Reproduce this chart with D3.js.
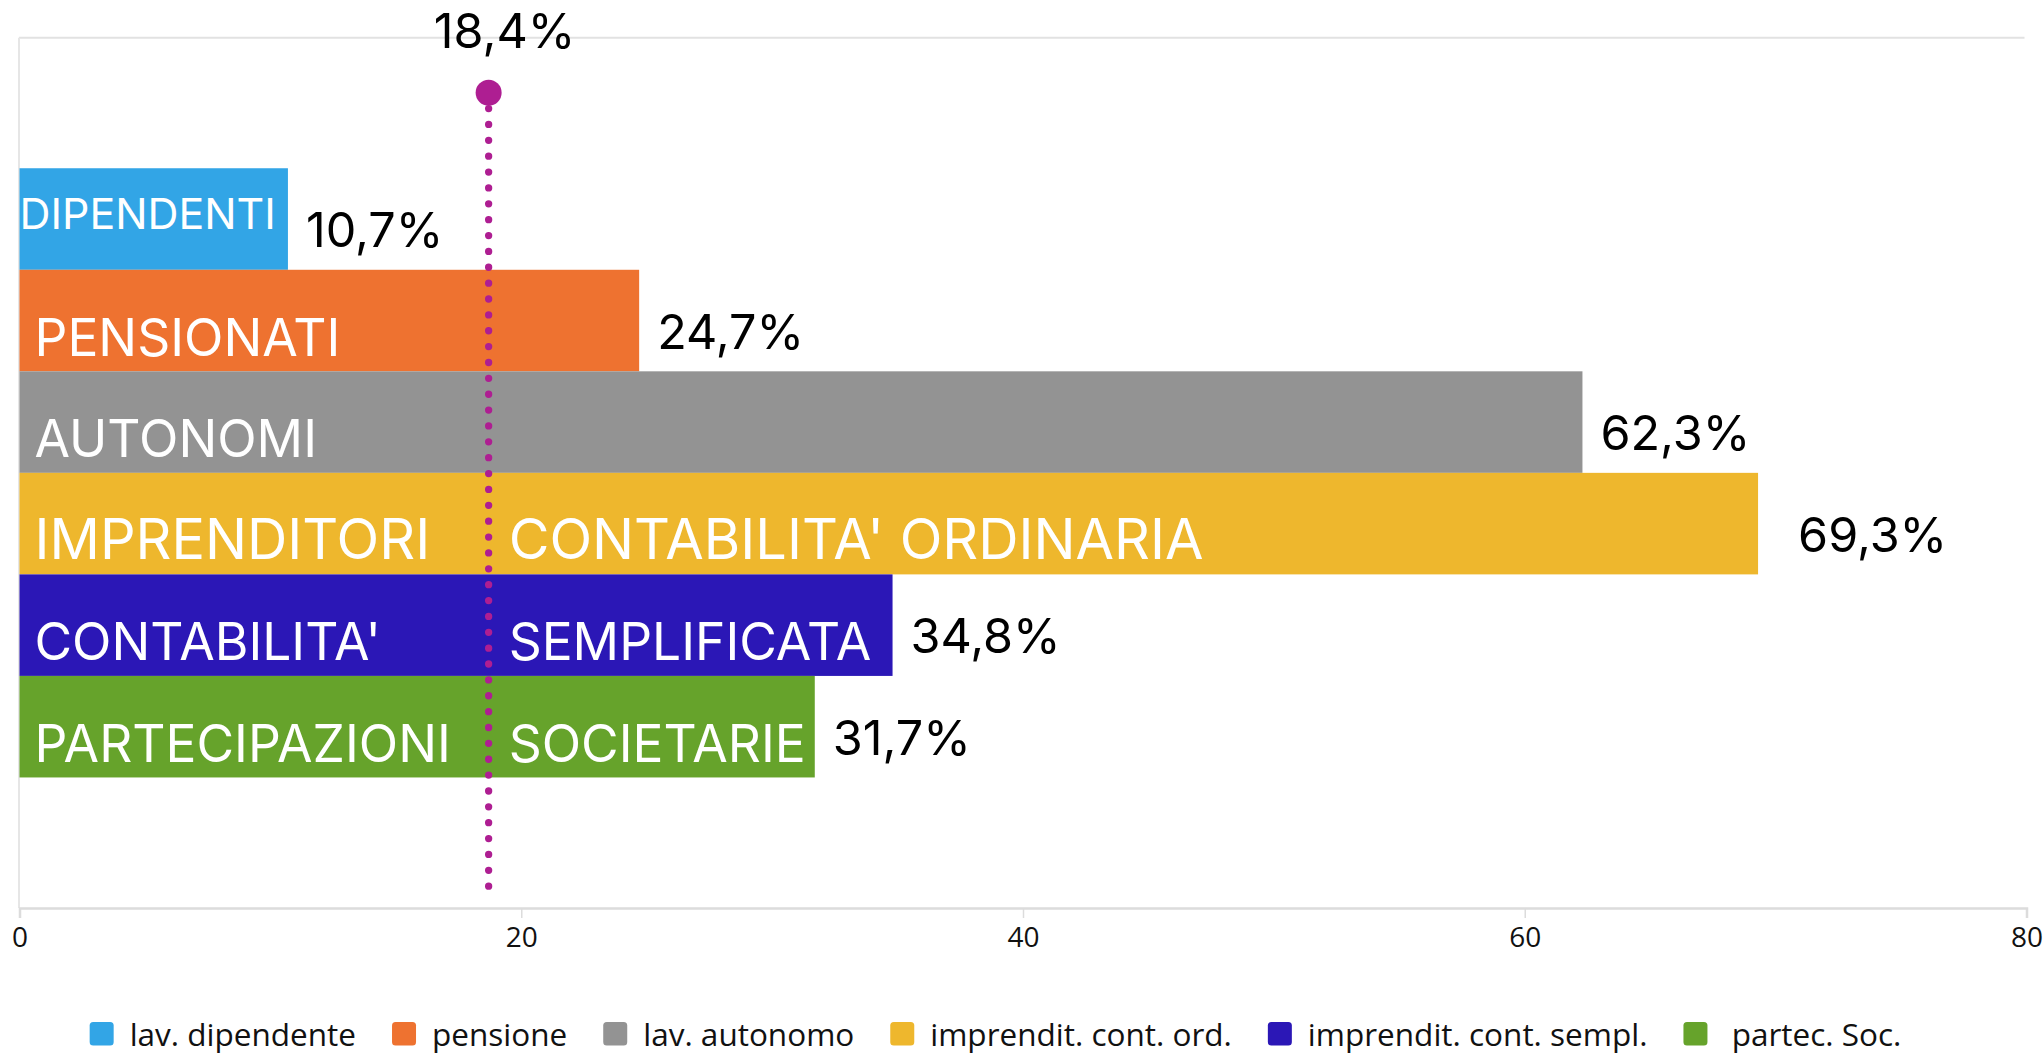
<!DOCTYPE html>
<html><head><meta charset="utf-8">
<script src="https://cdn.jsdelivr.net/npm/d3@7"></script>
<style>
html,body{margin:0;padding:0;background:#fff;}
svg{display:block;}
</style></head>
<body>
<svg id="chart" width="2043" height="1054"></svg>
<script>
// ---- data ----
const categories = ["lav. dipendente","pensione","lav. autonomo","imprendit. cont. ord.","imprendit. cont. sempl."," partec. Soc."];
const values = [10.7, 24.7, 62.3, 69.3, 34.8, 31.7];
const valueLabels = ["10,7%","24,7%","62,3%","69,3%","34,8%","31,7%"];
const barLabelsLeft = ["DIPENDENTI","PENSIONATI","AUTONOMI","IMPRENDITORI","CONTABILITA'","PARTECIPAZIONI"];
const barLabelsRight = ["","","","CONTABILITA' ORDINARIA","SEMPLIFICATA","SOCIETARIE"];
const colors = ["#32A5E6","#EE7230","#939393","#EEB72D","#2B17B6","#66A32B"];
const avgPosition = 18.7;      // where the average marker sits in the picture
const avgLabel = "18,4%";
const avgColor = "#AE1E92";
const xTicks = [0, 20, 40, 60, 80];
const xDomain = [0, 80];

// ---- style ----
const baseFont = 51.5;
const highlightRow = 3;            // the yellow row is drawn with larger labels
const highlightFont = 55.8;
const valueGap = 18, highlightValueGap = 40;

// ---- layout ----
const svg = d3.select("#chart");
const L = 19.5, R = 2026.5, T = 37.7, B = 908;

const x = d3.scaleLinear().domain(xDomain).range([L, R]);
const y = d3.scaleBand().domain(d3.range(categories.length)).range([T, B])
  .paddingInner(0).paddingOuter(1.2857);

// frame lines
svg.append("line").attr("x1", L - 0.5).attr("x2", R - 2).attr("y1", T).attr("y2", T)
  .attr("stroke", "#e2e2e2").attr("stroke-width", 2);
svg.append("line").attr("x1", L - 0.5).attr("x2", L - 0.5).attr("y1", T).attr("y2", B)
  .attr("stroke", "#e6e6e6").attr("stroke-width", 2);

// x axis
const axis = d3.axisBottom(x).tickValues(xTicks).tickSize(10).tickPadding(9).tickFormat(d3.format("d"));
const gx = svg.append("g").attr("transform", `translate(0,${B})`).call(axis);
gx.select(".domain").attr("stroke", "#dcdcdc").attr("stroke-width", 2.5);
gx.selectAll(".tick line").attr("stroke", "#dcdcdc").attr("stroke-width", 1.5);
gx.selectAll(".tick text").attr("font-family", "'Open Sans', sans-serif").attr("font-size", 28).attr("fill", "#111");

// bars
const rows = values.map((v, i) => ({v, i}));
svg.append("g").selectAll("rect").data(rows).join("rect")
  .attr("x", x(0)).attr("y", d => y(d.i))
  .attr("width", d => x(d.v) - x(0)).attr("height", y.bandwidth())
  .attr("fill", d => colors[d.i]);

// bar labels
const gl = svg.append("g").attr("font-family", "Inter, sans-serif").attr("fill", "#fff");
rows.forEach(d => {
  const cy = y(d.i) + y.bandwidth() / 2;
  const fs0 = d.i === highlightRow ? highlightFont : baseFont;
  const t = gl.append("text").attr("x", x(0) + 15).attr("y", cy + 35)
    .attr("font-size", fs0).text(barLabelsLeft[d.i]);
  const w = t.node().getComputedTextLength();
  const avail = x(d.v) - x(0) - 12;
  if (barLabelsRight[d.i] === "" && w + 15 > avail) {
    const fs = fs0 * avail / w;
    t.attr("font-size", fs).attr("x", x(0)).attr("y", cy + 10);
  }
  if (barLabelsRight[d.i]) {
    gl.append("text").attr("x", x(avgPosition) + 20).attr("y", cy + 35)
      .attr("font-size", fs0).text(barLabelsRight[d.i]);
  }
});

// value labels
svg.append("g").selectAll("text").data(rows).join("text")
  .attr("x", d => x(d.v) + (d.i === highlightRow ? highlightValueGap : valueGap))
  .attr("y", d => y(d.i) + y.bandwidth() / 2 + 28)
  .attr("font-family", "Inter, sans-serif").attr("font-size", 48.5).attr("fill", "#000")
  .text(d => valueLabels[d.i]);

// average marker
const ax = x(avgPosition);
svg.append("line").attr("x1", ax).attr("x2", ax).attr("y1", 92.7).attr("y2", 892)
  .attr("stroke", avgColor).attr("stroke-width", 7.3)
  .attr("stroke-linecap", "round").attr("stroke-dasharray", "0 15.87");
svg.append("circle").attr("cx", ax).attr("cy", 92.7).attr("r", 13).attr("fill", avgColor);
svg.append("text").attr("x", ax + 16).attr("y", 48.3).attr("text-anchor", "middle")
  .attr("font-family", "Inter, sans-serif").attr("font-size", 48.5).attr("fill", "#000")
  .text(avgLabel);

// legend
const lg = svg.append("g").attr("font-family", "'Open Sans', sans-serif").attr("font-size", 31.5).attr("fill", "#111");
let cx = 0;
categories.forEach((c, i) => {
  const g = lg.append("g");
  g.append("rect").attr("x", cx).attr("y", 1022).attr("width", 24).attr("height", 23.5)
    .attr("rx", 3.5).attr("fill", colors[i]);
  const t = g.append("text").attr("x", cx + 40).attr("y", 1045.7)
    .style("white-space", "pre").text(c);
  const w = t.node().getComputedTextLength();
  cx = cx + 40 + w + 36;
});
const totalW = cx - 36;
lg.attr("transform", `translate(${995.5 - totalW / 2},0)`);
</script>
</body></html>
